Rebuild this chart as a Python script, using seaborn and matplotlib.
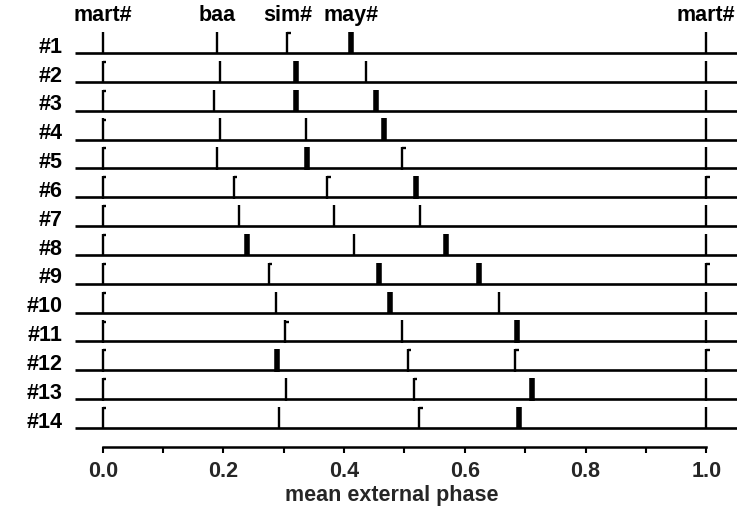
import matplotlib
matplotlib.use("Agg")
import matplotlib.pyplot as plt
import seaborn as sns
import numpy as np

# one row per cycle, phases of the external markers (mart# = 0 and 1)
rows = ["#1", "#2", "#3", "#4", "#5", "#6", "#7", "#8", "#9", "#10", "#11", "#12", "#13", "#14"]
baa = [0.190, 0.195, 0.184, 0.195, 0.190, 0.217, 0.225, 0.239, 0.275, 0.287, 0.302, 0.288, 0.303, 0.292]
sim = [0.306, 0.320, 0.320, 0.336, 0.339, 0.372, 0.384, 0.416, 0.458, 0.476, 0.496, 0.505, 0.515, 0.524]
may = [0.412, 0.437, 0.453, 0.466, 0.496, 0.519, 0.526, 0.568, 0.624, 0.656, 0.686, 0.683, 0.711, 0.689]
mart_start = [0.0] * 14
mart_end = [1.0] * 14

# marker type: 0 thin, 1 bracket, 2 thick
mart_start_type = [0, 1, 1, 1, 1, 1, 1, 1, 1, 1, 1, 1, 1, 1]
baa_type = [0, 0, 0, 0, 0, 1, 0, 2, 1, 0, 1, 2, 0, 0]
sim_type = [1, 2, 2, 0, 2, 1, 0, 0, 2, 2, 0, 1, 1, 1]
may_type = [2, 0, 2, 2, 1, 2, 0, 2, 2, 0, 2, 1, 2, 2]
mart_end_type = [0, 0, 0, 0, 0, 1, 0, 0, 1, 0, 0, 1, 0, 0]

top_labels = ["mart#", "baa", "sim#", "may#", "mart#"]

sns.set_theme(style="white")
plt.rcParams["font.family"] = ["Liberation Sans", "DejaVu Sans"]
FS = 15.5

W, H = 737, 514
fig = plt.figure(figsize=(W / 100, H / 100), dpi=100)
ax = fig.add_axes([75 / W, 1 - 447 / H, (W - 75) / W, 447 / H])
x_lo, x_hi = -0.046, 1.051
ax.set_xlim(x_lo, x_hi)
ax.set_ylim(14.66, -0.837)

y = np.arange(1, len(rows) + 1)
ax.hlines(y, x_lo, x_hi, color="black", lw=1.9)

tick_h = 0.73
series = [(mart_start, mart_start_type), (baa, baa_type), (sim, sim_type),
          (may, may_type), (mart_end, mart_end_type)]
for vals, kinds in series:
    for yi, v, k in zip(y, vals, kinds):
        lw = 4.0 if k == 2 else 1.7
        ax.plot([v, v], [yi + 0.05, yi - tick_h], color="black", lw=lw,
                solid_capstyle="butt")
        if k == 1:
            ax.plot([v, v + 0.006], [yi - tick_h + 0.04, yi - tick_h + 0.04],
                    color="black", lw=1.7, solid_capstyle="butt")

for lab, v in zip(top_labels, [mart_start[0], baa[0], sim[0], may[0], mart_end[0]]):
    ax.text(v, -0.3, lab, ha="center", va="center", fontsize=FS,
            fontweight="bold", color="black")

for yi, lab in zip(y, rows):
    ax.text(-0.066, yi - 0.2, lab, ha="right", va="center", fontsize=FS,
            fontweight="bold", color="black", clip_on=False)

sns.despine(ax=ax, left=True, top=True, right=True)
ax.spines["bottom"].set_bounds(0, 1)
ax.spines["bottom"].set_color("black")
ax.spines["bottom"].set_linewidth(1.8)
ax.set_yticks([])
ax.set_xticks(np.arange(0, 1.01, 0.2))
ax.set_xticks(np.arange(0.1, 1.0, 0.2), minor=True)
ax.set_xticklabels([f"{t:.1f}" for t in np.arange(0, 1.01, 0.2)],
                   fontsize=FS, fontweight="bold")
ax.tick_params(axis="x", which="both", direction="out", length=4, width=1.5,
               color="black", bottom=True, pad=6)
ax.set_xlabel("mean external phase", fontsize=FS, fontweight="bold")
ax.xaxis.set_label_coords(0.479, -0.085)
ax.grid(False)

fig.savefig("out.png", dpi=100)
